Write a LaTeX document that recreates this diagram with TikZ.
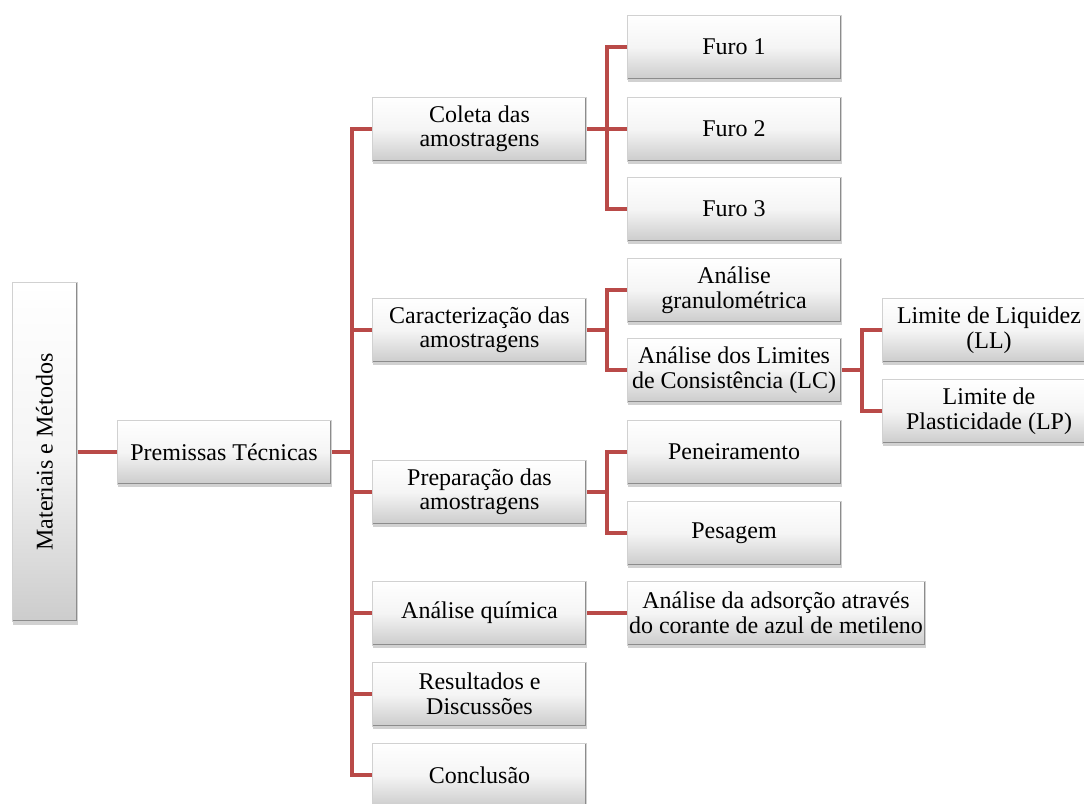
\documentclass[tikz,border=0pt]{standalone}
\usepackage{fontspec}
\setmainfont{Liberation Serif}
\usepackage{graphicx}
\usetikzlibrary{shadows,backgrounds}
\definecolor{conncol}{RGB}{185,74,72}
\tikzset{
  box/.style={rectangle, minimum width=214pt, minimum height=64pt, inner sep=1pt,
    align=center, font=\rmfamily\fontsize{24}{24.5}\selectfont,
    top color=white, bottom color=black!20, middle color=black!4,
    draw=black!18, line width=0.6pt,
    drop shadow={shadow xshift=0.8pt, shadow yshift=-3pt, opacity=0.3, fill=black!60},
    path picture={\draw[black!45, line width=3pt]
      (path picture bounding box.north east) -- (path picture bounding box.south east)
      -- (path picture bounding box.south west);}},
  conn/.style={draw=conncol, line width=4.8pt, line join=miter}
}
\begin{document}
\begin{tikzpicture}[x=1pt,y=-1pt]
\useasboundingbox (0,0) rectangle (1084,803);
% level 0
\node[box, minimum width=65pt, minimum height=339pt] (mm) at (44.5,452) {\rotatebox{90}{Materiais e Métodos}};
\node[box] (pt) at (224,452) {Premissas Técnicas};
% level 2
\node[box] (col) at (479.5,129) {Coleta das\\amostragens};
\node[box] (car) at (479.5,330) {Caracterização das\\amostragens};
\node[box] (pre) at (479.5,492) {Preparação das\\amostragens};
\node[box] (qui) at (479.5,613) {Análise química};
\node[box] (res) at (479.5,694) {Resultados e\\Discussões};
\node[box] (con) at (479.5,775) {Conclusão};
% level 3
\node[box] (f1) at (734,47) {Furo 1};
\node[box] (f2) at (734,129) {Furo 2};
\node[box] (f3) at (734,209) {Furo 3};
\node[box] (gra) at (734,290) {Análise\\granulométrica};
\node[box] (lc) at (734,370) {Análise dos Limites\\de Consistência (LC)};
\node[box] (pen) at (734,452) {Peneiramento};
\node[box] (pes) at (734,533) {Pesagem};
\node[box, minimum width=298pt] (ads) at (776,613) {Análise da adsorção através\\do corante de azul de metileno};
% level 4
\node[box] (ll) at (989,330) {Limite de Liquidez\\(LL)};
\node[box] (lp) at (989,411) {Limite de\\Plasticidade (LP)};
% junctions
\coordinate (j0) at (352,452);
\coordinate (j1) at (607,129);
\coordinate (j2) at (607,330);
\coordinate (j3) at (607,492);
\coordinate (j4) at (862,370);
\begin{scope}[on background layer]
\draw[conn] (mm.east) -- (pt.west);
\draw[conn] (pt.east) -- (j0);
\foreach \n in {col,car,pre,qui,res,con}{
  \draw[conn] (j0) |- (\n.west);
}
\draw[conn] (col.east) -- (j1);
\foreach \n in {f1,f2,f3}{ \draw[conn] (j1) |- (\n.west); }
\draw[conn] (car.east) -- (j2);
\foreach \n in {gra,lc}{ \draw[conn] (j2) |- (\n.west); }
\draw[conn] (pre.east) -- (j3);
\foreach \n in {pen,pes}{ \draw[conn] (j3) |- (\n.west); }
\draw[conn] (qui.east) -- (ads.west);
\draw[conn] (lc.east) -- (j4);
\foreach \n in {ll,lp}{ \draw[conn] (j4) |- (\n.west); }
\end{scope}
\end{tikzpicture}
\end{document}
